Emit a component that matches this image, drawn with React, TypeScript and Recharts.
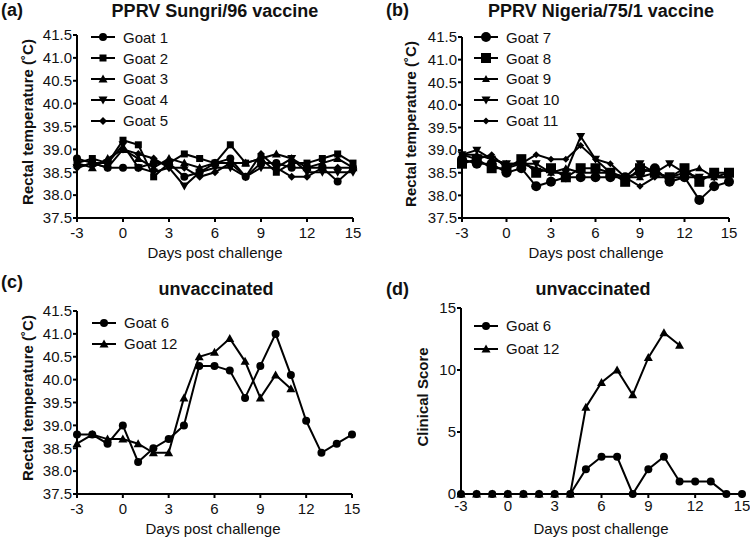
import React from 'react';
import { LineChart, Line, XAxis, YAxis } from 'recharts';

const days = [-3, -2, -1, 0, 1, 2, 3, 4, 5, 6, 7, 8, 9, 10, 11, 12, 13, 14, 15];
const dayTicks = [-3, 0, 3, 6, 9, 12, 15];
const tempTicks = [37.5, 38.0, 38.5, 39.0, 39.5, 40.0, 40.5, 41.0, 41.5];
const scoreTicks = [0, 5, 10, 15];

// (a) PPRV Sungri/96 vaccine
const goat1 = [38.8, 38.7, 38.6, 38.6, 38.6, 38.7, 38.7, 38.4, 38.5, 38.7, 38.8, 38.4, 38.7, 38.7, 38.6, 38.6, 38.6, 38.3, 38.6];
const goat2 = [38.7, 38.8, 38.7, 39.2, 39.1, 38.4, 38.7, 38.9, 38.8, 38.7, 39.1, 38.7, 38.8, 38.5, 38.7, 38.7, 38.8, 38.9, 38.7];
const goat3 = [38.7, 38.6, 38.8, 39.0, 38.8, 38.6, 38.8, 38.7, 38.6, 38.7, 38.7, 38.7, 38.8, 38.9, 38.8, 38.6, 38.7, 38.8, 38.6];
const goat4 = [38.6, 38.7, 38.7, 39.1, 38.6, 38.5, 38.6, 38.2, 38.5, 38.6, 38.6, 38.4, 38.6, 38.6, 38.8, 38.5, 38.5, 38.5, 38.5];
const goat5 = [38.6, 38.7, 38.6, 39.0, 38.9, 38.8, 38.6, 38.6, 38.4, 38.5, 38.7, 38.4, 38.9, 38.6, 38.4, 38.4, 38.6, 38.6, 38.6];

// (b) PPRV Nigeria/75/1 vaccine
const goat7 = [38.8, 38.7, 38.7, 38.5, 38.6, 38.2, 38.3, 38.4, 38.4, 38.4, 38.4, 38.4, 38.5, 38.6, 38.3, 38.4, 37.9, 38.2, 38.3];
const goat8 = [38.7, 38.8, 38.6, 38.6, 38.8, 38.5, 38.6, 38.4, 38.6, 38.6, 38.5, 38.3, 38.6, 38.5, 38.4, 38.6, 38.3, 38.5, 38.5];
const goat9 = [38.9, 38.9, 38.8, 38.7, 38.7, 38.6, 38.5, 38.6, 38.5, 38.5, 38.5, 38.4, 38.4, 38.5, 38.4, 38.5, 38.6, 38.4, 38.4];
const goat10 = [38.9, 39.0, 38.8, 38.7, 38.7, 38.7, 38.5, 38.5, 39.3, 38.8, 38.5, 38.4, 38.7, 38.5, 38.7, 38.5, 38.4, 38.4, 38.4];
const goat11 = [38.9, 38.8, 38.9, 38.6, 38.7, 38.9, 38.8, 38.8, 39.1, 38.8, 38.7, 38.4, 38.2, 38.4, 38.4, 38.4, 38.4, 38.4, 38.5];

// (c) unvaccinated, temperature
const goat6Temp = [38.8, 38.8, 38.6, 39.0, 38.2, 38.5, 38.7, 39.0, 40.3, 40.3, 40.2, 39.6, 40.3, 41.0, 40.1, 39.1, 38.4, 38.6, 38.8];
const goat12Temp = [38.6, 38.8, 38.7, 38.7, 38.6, 38.4, 38.4, 39.6, 40.5, 40.6, 40.9, 40.4, 39.6, 40.1, 39.8, null, null, null, null];

// (d) unvaccinated, clinical score
const goat6Score = [0, 0, 0, 0, 0, 0, 0, 0, 2, 3, 3, 0, 2, 3, 1, 1, 1, 0, 0];
const goat12Score = [0, 0, 0, 0, 0, 0, 0, 0, 7, 9, 10, 8, 11, 13, 12, null, null, null, null];

const FONT = '"Liberation Sans", Arial, sans-serif';

type Shape = 'circle' | 'square' | 'triangle' | 'down' | 'diamond';

const Marker = ({ cx, cy, shape, size }: { cx: number; cy: number; shape: Shape; size: number }) => {
  const h = size / 2;
  if (shape === 'circle') return <circle cx={cx} cy={cy} r={h} fill="#000" />;
  if (shape === 'square') return <rect x={cx - h} y={cy - h} width={size} height={size} fill="#000" />;
  if (shape === 'triangle')
    return <polygon points={`${cx},${cy - h - 1} ${cx - h - 1},${cy + h} ${cx + h + 1},${cy + h}`} fill="#000" />;
  if (shape === 'down')
    return <polygon points={`${cx},${cy + h + 1} ${cx - h - 1},${cy - h} ${cx + h + 1},${cy - h}`} fill="#000" />;
  return <polygon points={`${cx},${cy - h} ${cx + h},${cy} ${cx},${cy + h} ${cx - h},${cy}`} fill="#000" />;
};

interface Series {
  name: string;
  values: (number | null)[];
  shape: Shape;
  size: number;
}

interface PanelProps {
  left: number;
  top: number;
  width: number;
  height: number;
  margin: { top: number; right: number; bottom: number; left: number };
  yWidth: number;
  series: Series[];
  yDomain: [number, number];
  yTicks: number[];
  decimals: number;
  xTickMargin: number;
  legendTop: number;
  legendLeft: number;
  legendGap: number;
}

const X_AXIS_H = 30;

const Panel = (p: PanelProps) => {
  const data = days.map((d, i) => {
    const row: Record<string, number | null> = { day: d };
    p.series.forEach((s) => (row[s.name] = s.values[i]));
    return row;
  });
  const tick = { fill: '#111', fontSize: 15, fontFamily: FONT };
  return (
    <div style={{ position: 'absolute', left: p.left, top: p.top, width: p.width, height: p.height }}>
      <LineChart
        width={p.width}
        height={p.height}
        data={data}
        margin={{ ...p.margin, bottom: p.margin.bottom - X_AXIS_H }}
      >
        <XAxis
          dataKey="day"
          type="number"
          domain={[-3, 15]}
          ticks={dayTicks}
          interval={0}
          height={X_AXIS_H}
          tick={tick}
          tickSize={4}
          tickMargin={p.xTickMargin}
          stroke="#000"
          strokeWidth={2}
        />
        <YAxis
          type="number"
          domain={p.yDomain}
          ticks={p.yTicks}
          interval={0}
          width={p.yWidth}
          tick={tick}
          tickSize={4}
          tickMargin={1}
          stroke="#000"
          strokeWidth={2}
          tickFormatter={(v: number) => v.toFixed(p.decimals)}
        />
        {p.series.map((s) => (
          <Line
            key={s.name}
            dataKey={s.name}
            stroke="#000"
            strokeWidth={2}
            isAnimationActive={false}
            dot={(props: any) => {
              const { cx, cy, value, index } = props;
              if (value == null || cy == null) return <g key={`${s.name}-${index}`} />;
              return (
                <g key={`${s.name}-${index}`}>
                  <Marker cx={cx} cy={cy} shape={s.shape} size={s.size} />
                </g>
              );
            }}
            activeDot={false}
          />
        ))}
      </LineChart>
      <div style={{ position: 'absolute', top: p.legendTop, left: p.legendLeft }}>
        {p.series.map((s) => (
          <div key={s.name} style={{ height: p.legendGap, display: 'flex', alignItems: 'center' }}>
            <svg width={24} height={14}>
              <line x1={0} y1={7} x2={24} y2={7} stroke="#000" strokeWidth={2} />
              <Marker cx={12} cy={7} shape={s.shape} size={s.size} />
            </svg>
            <span style={{ marginLeft: 8, fontSize: 15, fontFamily: FONT, color: '#111' }}>{s.name}</span>
          </div>
        ))}
      </div>
    </div>
  );
};

const txt = (left: number, top: number, text: string, style: React.CSSProperties = {}) => (
  <div
    style={{
      position: 'absolute',
      left,
      top,
      fontFamily: FONT,
      color: '#111',
      whiteSpace: 'nowrap',
      ...style,
    }}
  >
    {text}
  </div>
);

const centered = (cx: number, cy: number, text: string, style: React.CSSProperties) => (
  <div
    style={{
      position: 'absolute',
      left: cx,
      top: cy,
      transform: 'translate(-50%, -50%)',
      fontFamily: FONT,
      color: '#111',
      whiteSpace: 'nowrap',
      ...style,
    }}
  >
    {text}
  </div>
);

const vertical = (cx: number, cy: number, text: string) => (
  <div
    style={{
      position: 'absolute',
      left: cx,
      top: cy,
      transform: 'translate(-50%, -50%) rotate(-90deg)',
      fontFamily: FONT,
      fontWeight: 'bold',
      fontSize: 15,
      color: '#111',
      whiteSpace: 'nowrap',
    }}
  >
    {text}
  </div>
);

const App: React.FC = () => {
  const title = { fontWeight: 'bold', fontSize: 18 } as React.CSSProperties;
  const xl = { fontSize: 15 } as React.CSSProperties;
  return (
    <div style={{ position: 'fixed', left: 0, top: 0, width: 750, height: 539, background: '#fff', overflow: 'hidden' }}>
      <Panel
        left={0}
        top={0}
        width={375}
        height={260}
        margin={{ top: 35, right: 22, bottom: 42, left: 20 }}
        yWidth={57}
        yDomain={[37.5, 41.5]}
        yTicks={tempTicks}
        decimals={1}
        xTickMargin={5}
        legendTop={27}
        legendLeft={91}
        legendGap={20.8}
        series={[
          { name: 'Goat 1', values: goat1, shape: 'circle', size: 8 },
          { name: 'Goat 2', values: goat2, shape: 'square', size: 7 },
          { name: 'Goat 3', values: goat3, shape: 'triangle', size: 7 },
          { name: 'Goat 4', values: goat4, shape: 'down', size: 7 },
          { name: 'Goat 5', values: goat5, shape: 'diamond', size: 8 },
        ]}
      />
      <Panel
        left={375}
        top={0}
        width={375}
        height={260}
        margin={{ top: 37, right: 21, bottom: 42, left: 30 }}
        yWidth={57}
        yDomain={[37.5, 41.5]}
        yTicks={tempTicks}
        decimals={1}
        xTickMargin={5}
        legendTop={27}
        legendLeft={99}
        legendGap={20.8}
        series={[
          { name: 'Goat 7', values: goat7, shape: 'circle', size: 10 },
          { name: 'Goat 8', values: goat8, shape: 'square', size: 10 },
          { name: 'Goat 9', values: goat9, shape: 'triangle', size: 6 },
          { name: 'Goat 10', values: goat10, shape: 'down', size: 7 },
          { name: 'Goat 11', values: goat11, shape: 'diamond', size: 7 },
        ]}
      />
      <Panel
        left={0}
        top={260}
        width={375}
        height={279}
        margin={{ top: 51, right: 23, bottom: 45, left: 20 }}
        yWidth={57}
        yDomain={[37.5, 41.5]}
        yTicks={tempTicks}
        decimals={1}
        xTickMargin={5}
        legendTop={52}
        legendLeft={92}
        legendGap={21}
        series={[
          { name: 'Goat 6', values: goat6Temp, shape: 'circle', size: 8 },
          { name: 'Goat 12', values: goat12Temp, shape: 'triangle', size: 7 },
        ]}
      />
      <Panel
        left={375}
        top={260}
        width={375}
        height={279}
        margin={{ top: 48, right: 8, bottom: 45, left: 30 }}
        yWidth={56}
        yDomain={[0, 15]}
        yTicks={scoreTicks}
        decimals={0}
        xTickMargin={2}
        legendTop={54}
        legendLeft={99}
        legendGap={23}
        series={[
          { name: 'Goat 6', values: goat6Score, shape: 'circle', size: 8 },
          { name: 'Goat 12', values: goat12Score, shape: 'triangle', size: 7 },
        ]}
      />

      {txt(1, 0, '(a)', title)}
      {centered(215, 11, 'PPRV Sungri/96 vaccine', title)}
      {vertical(27, 122, 'Rectal temperature (˚C)')}
      {centered(215, 252, 'Days post challenge', xl)}

      {txt(386, 0, '(b)', title)}
      {centered(601, 11, 'PPRV Nigeria/75/1 vaccine', title)}
      {vertical(410, 124, 'Rectal temperature (˚C)')}
      {centered(596, 252, 'Days post challenge', xl)}

      {txt(1, 272, '(c)', title)}
      {centered(216, 289, 'unvaccinated', title)}
      {vertical(27, 398, 'Rectal temperature (˚C)')}
      {centered(213, 528, 'Days post challenge', xl)}

      {txt(386, 279, '(d)', title)}
      {centered(593, 289, 'unvaccinated', title)}
      {vertical(422, 397, 'Clinical Score')}
      {centered(601, 528, 'Days post challenge', xl)}
    </div>
  );
};

export default App;
